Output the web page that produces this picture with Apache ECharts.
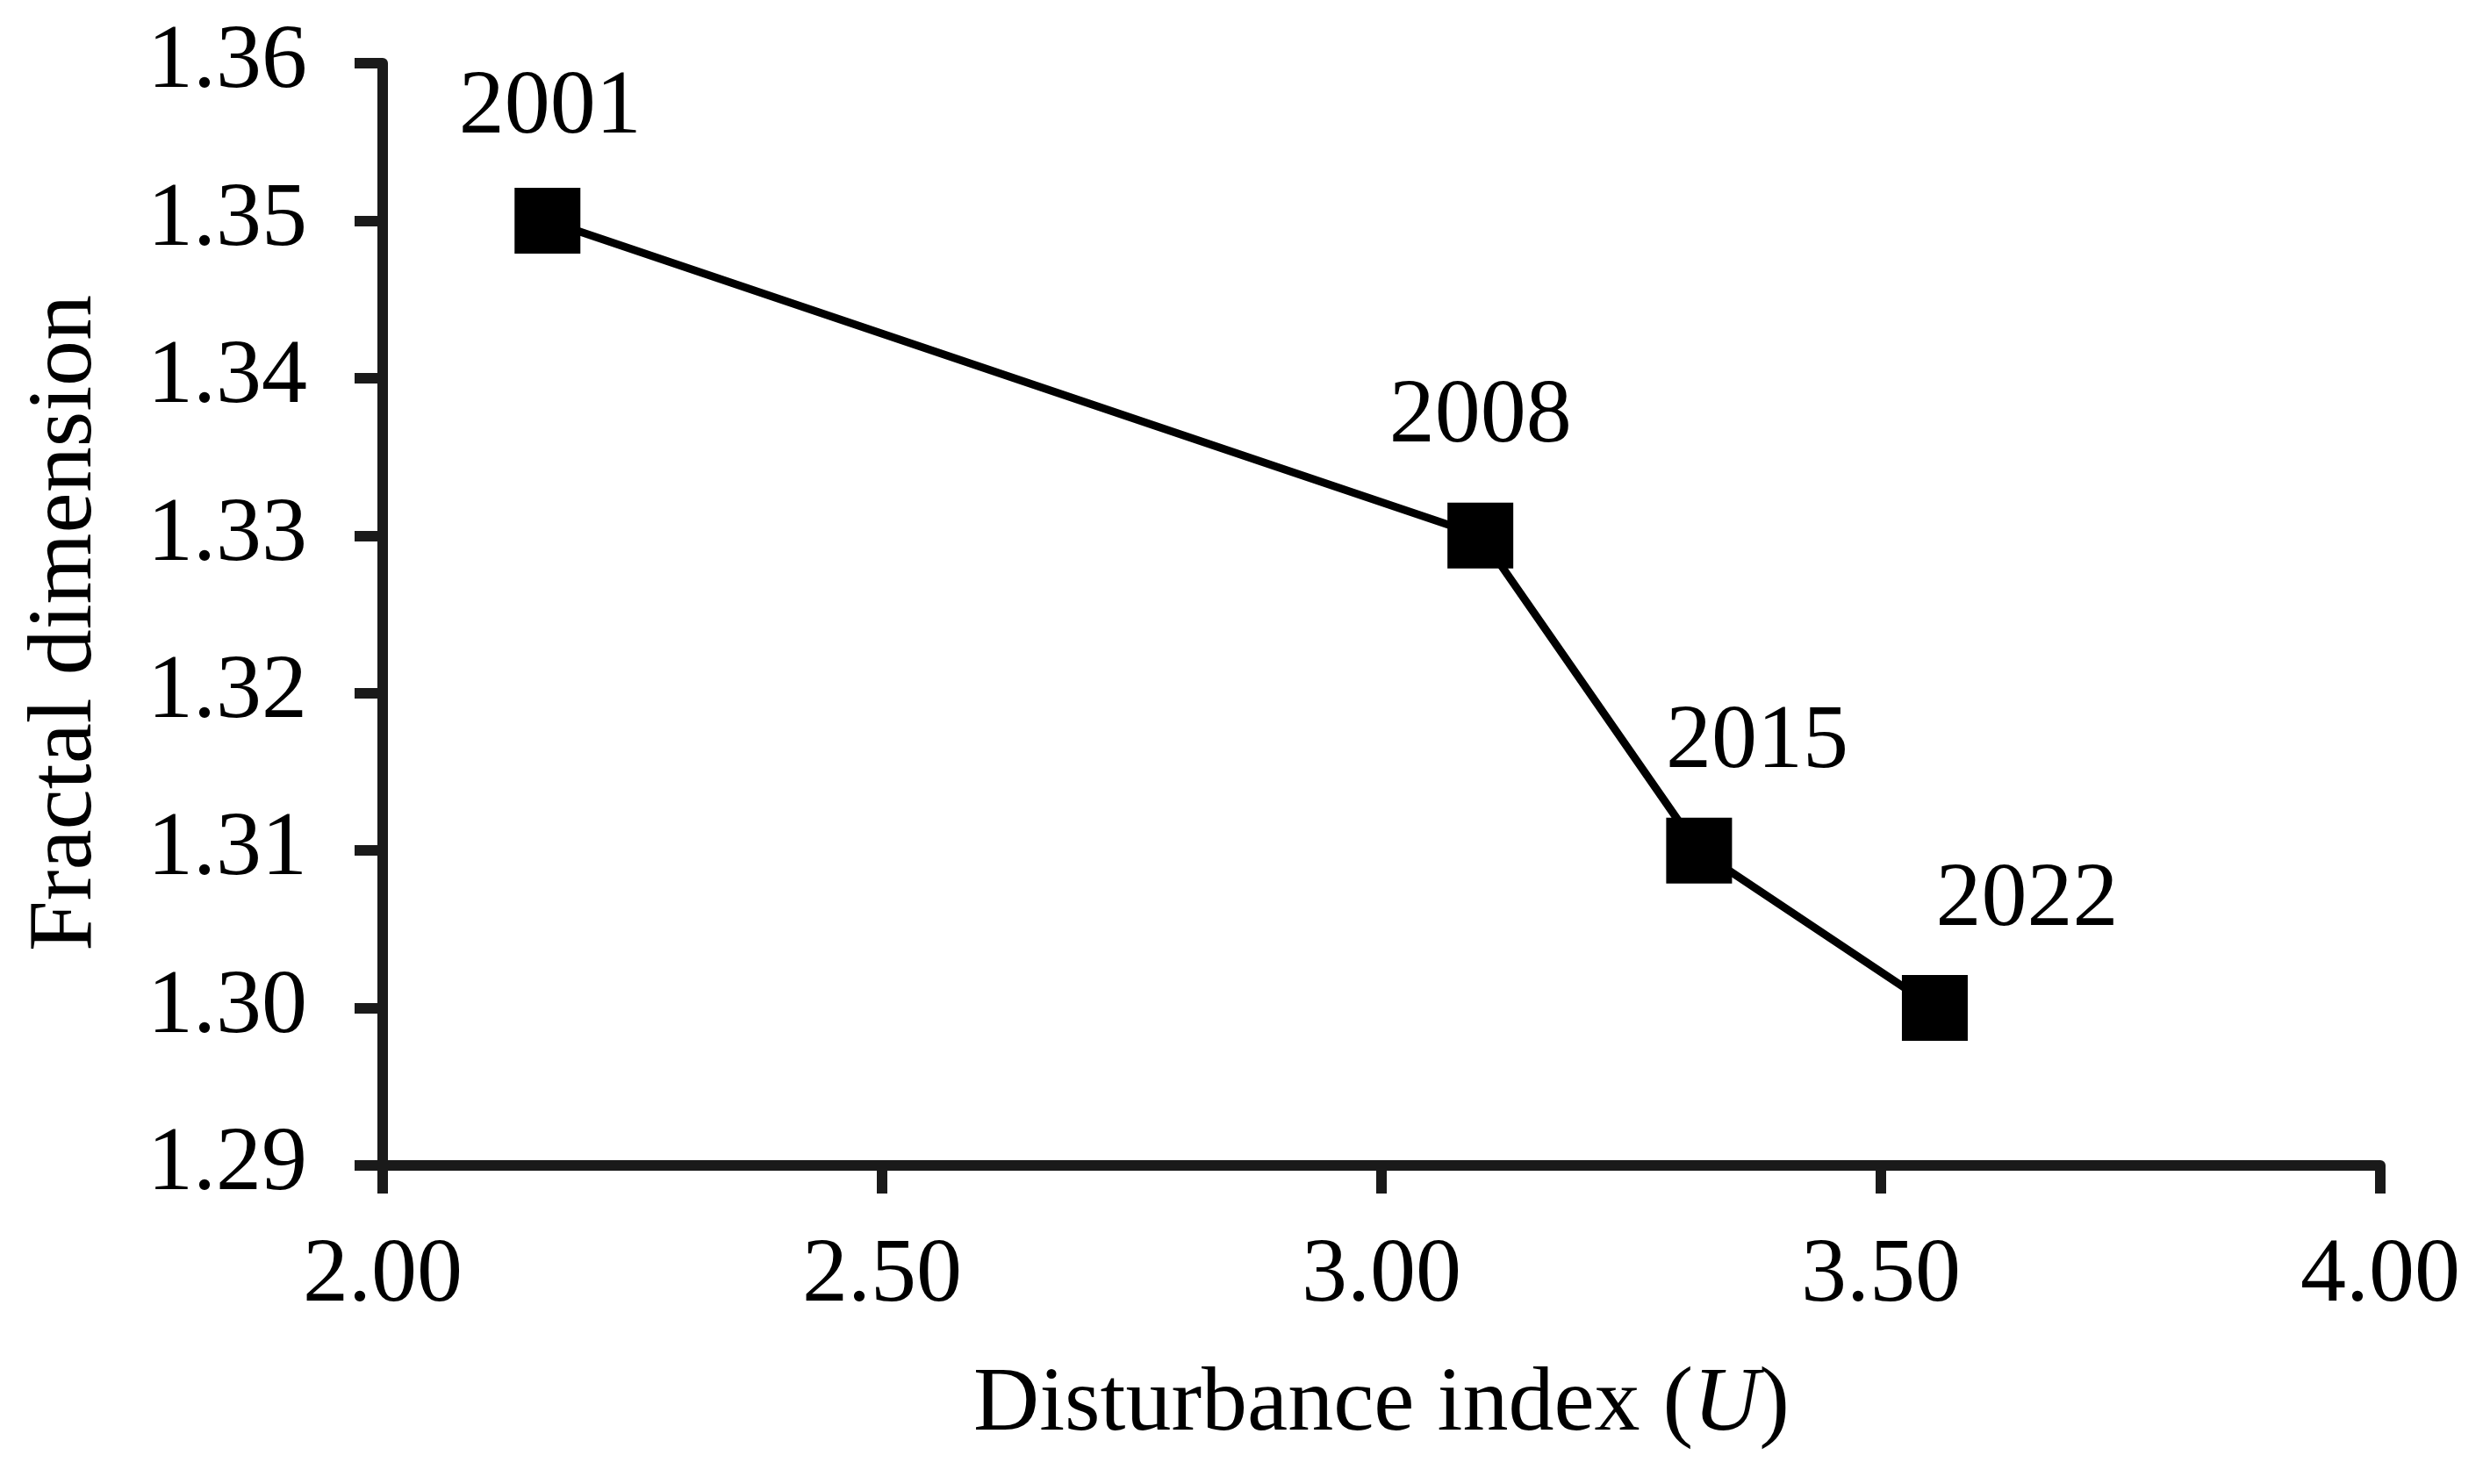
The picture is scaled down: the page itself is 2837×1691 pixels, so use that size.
<!DOCTYPE html>
<html>
<head>
<meta charset="utf-8">
<script src="https://cdn.jsdelivr.net/npm/echarts@6/dist/echarts.min.js"></script>
<style>
html,body{margin:0;padding:0;background:#fff;}
#chart{width:2837px;height:1691px;}
</style>
</head>
<body>
<div id="chart"></div>
<script>
// Data
const years = ['2001', '2008', '2015', '2022'];
const disturbanceIndex = [2.165, 3.099, 3.318, 3.554];
const fractalDimension = [1.350, 1.330, 1.310, 1.300];
// Label placement offsets (styling only)
const labelOffsets = [[3, -128], [0, -135], [66, -122], [105, -122]];

const FONT = 'Liberation Serif';
const FS = 104;
const chart = echarts.init(document.getElementById('chart'));

const seriesData = years.map((y, i) => ({
  value: [disturbanceIndex[i], fractalDimension[i]],
  name: y,
  label: { offset: labelOffsets[i] }
}));

chart.setOption({
  backgroundColor: '#ffffff',
  animation: false,
  grid: { left: 436, right: 125, top: 72, bottom: 363, containLabel: false },
  xAxis: {
    type: 'value',
    min: 2, max: 4, interval: 0.5,
    name: '{n|Disturbance index (}{i|U}{n|)}',
    nameLocation: 'middle',
    nameGap: 222,
    nameTextStyle: {
      rich: {
        n: { fontFamily: FONT, fontSize: FS, color: '#000' },
        i: { fontFamily: FONT, fontSize: FS, color: '#000', fontStyle: 'italic' }
      }
    },
    axisLine: { show: true, onZero: false, lineStyle: { color: '#1a1a1a', width: 12 } },
    axisTick: { show: true, inside: false, length: 32, lineStyle: { color: '#1a1a1a', width: 12 } },
    axisLabel: {
      margin: 75,
      fontFamily: FONT, fontSize: FS, color: '#000',
      formatter: v => v.toFixed(2)
    },
    splitLine: { show: false }
  },
  yAxis: {
    type: 'value',
    min: 1.29, max: 1.36, interval: 0.01,
    name: 'Fractal dimension',
    nameLocation: 'middle',
    nameGap: 308,
    nameRotate: 90,
    nameTextStyle: { fontFamily: FONT, fontSize: FS, color: '#000', padding: [0, 20, 0, 0] },
    axisLine: { show: true, onZero: false, lineStyle: { color: '#1a1a1a', width: 12 } },
    axisTick: { show: true, inside: false, length: 32, lineStyle: { color: '#1a1a1a', width: 12 } },
    axisLabel: {
      margin: 86,
      fontFamily: FONT, fontSize: FS, color: '#000',
      formatter: v => v.toFixed(2)
    },
    splitLine: { show: false }
  },
  series: [{
    type: 'line',
    data: seriesData,
    symbol: 'rect',
    symbolSize: 75,
    itemStyle: { color: '#000' },
    lineStyle: { color: '#000', width: 9 },
    label: {
      show: true,
      position: 'inside',
      formatter: p => p.name,
      fontFamily: FONT, fontSize: FS, color: '#000'
    }
  }]
});
</script>
</body>
</html>
